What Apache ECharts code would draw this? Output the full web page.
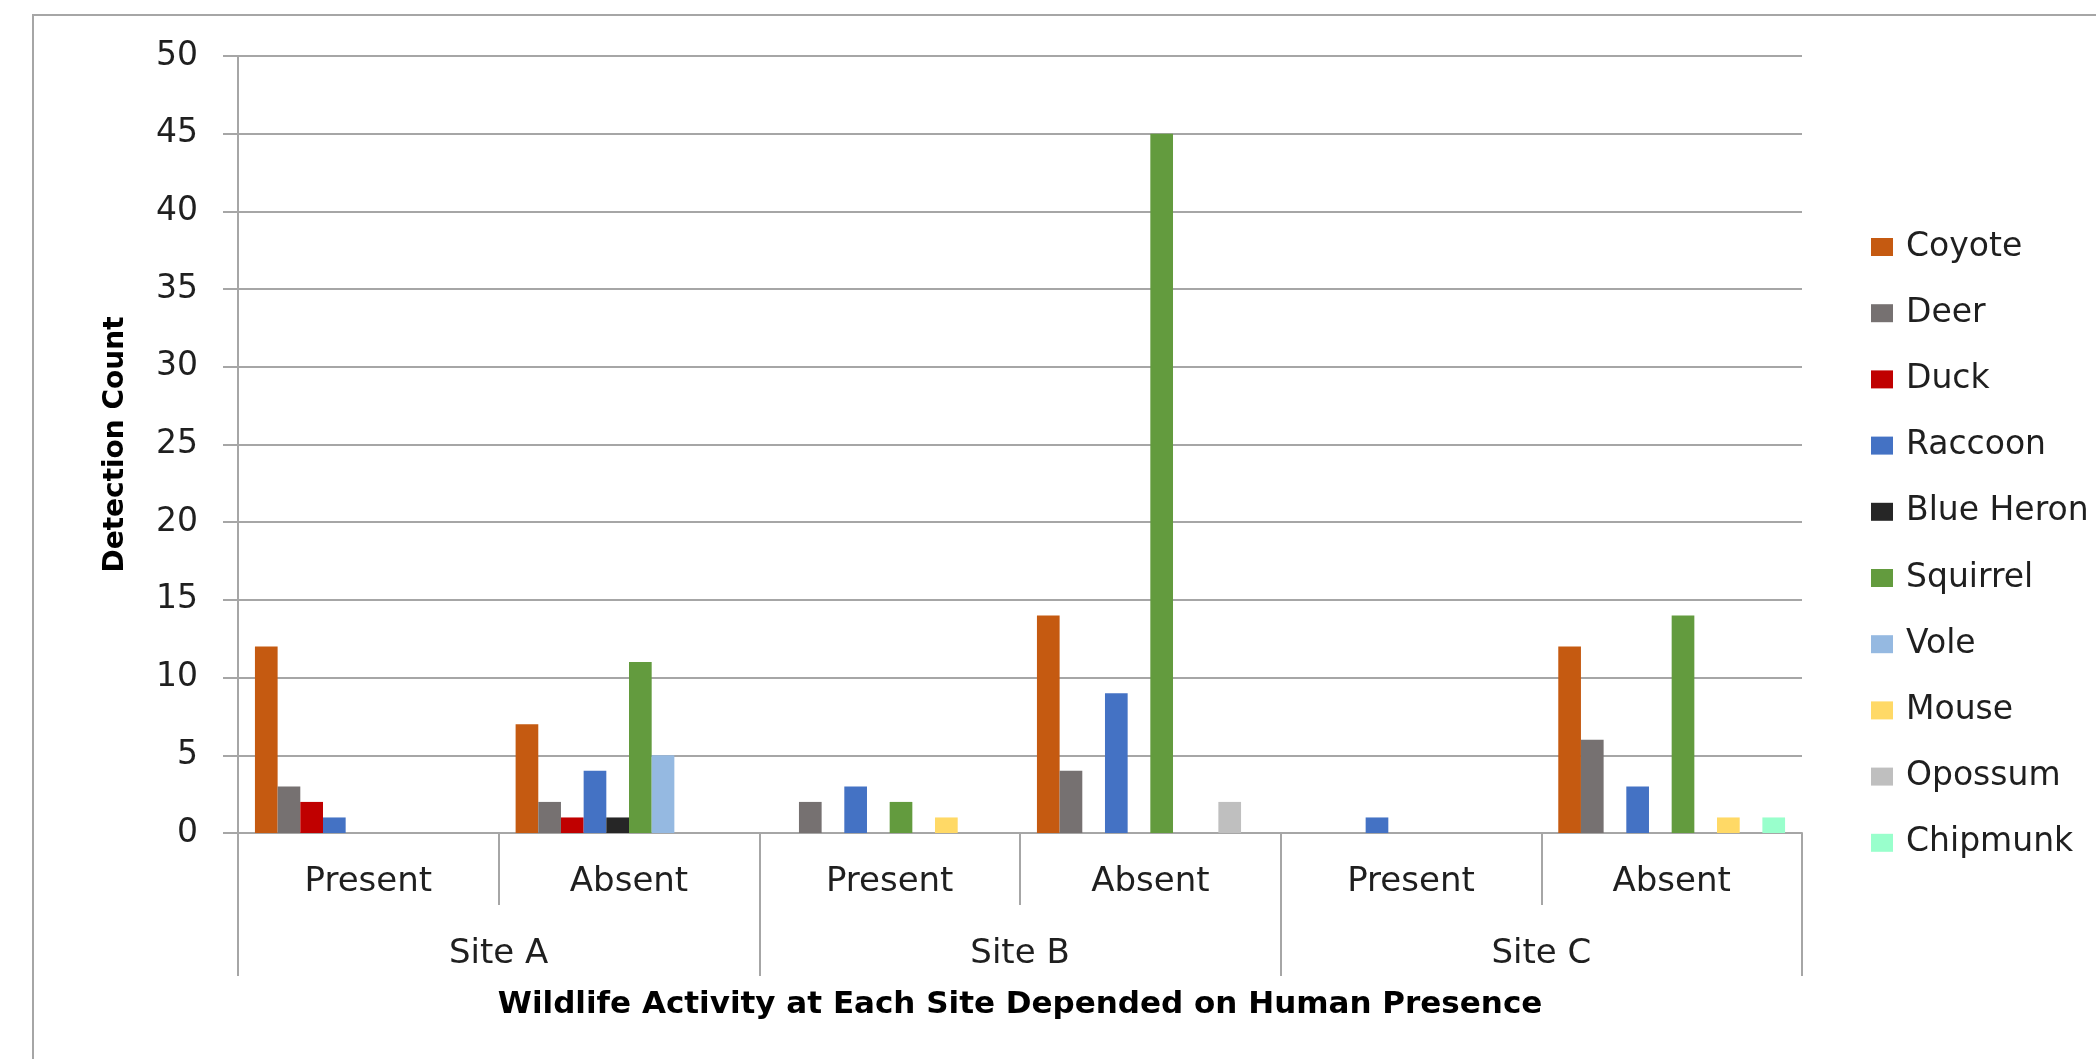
<!DOCTYPE html>
<html><head><meta charset="utf-8">
<script src="https://cdn.jsdelivr.net/npm/echarts@6/dist/echarts.min.js"></script>
<style>
html,body{margin:0;padding:0;background:#fff;overflow:hidden;}
#chart{width:2096px;height:1059px;position:absolute;left:0;top:0;}
#frame{position:absolute;left:32px;top:14px;width:2200px;height:1200px;border:2px solid #a6a6a6;pointer-events:none;box-sizing:border-box;}
</style></head><body>
<div id="chart"></div><div id="frame"></div>
<script>
// ---- data ----
const sites = ['Site A', 'Site B', 'Site C'];
const conditions = ['Present', 'Absent'];
const species = ['Coyote', 'Deer', 'Duck', 'Raccoon', 'Blue Heron', 'Squirrel', 'Vole', 'Mouse', 'Opossum', 'Chipmunk'];
// order: A-Present, A-Absent, B-Present, B-Absent, C-Present, C-Absent
const coyote    = [12, 7, 0, 14, 0, 12];
const deer      = [3, 2, 2, 4, 0, 6];
const duck      = [2, 1, 0, 0, 0, 0];
const raccoon   = [1, 4, 3, 9, 1, 3];
const blueHeron = [0, 1, 0, 0, 0, 0];
const squirrel  = [0, 11, 2, 45, 0, 14];
const vole      = [0, 5, 0, 0, 0, 0];
const mouse     = [0, 0, 1, 0, 0, 1];
const opossum   = [0, 0, 0, 2, 0, 0];
const chipmunk  = [0, 0, 0, 0, 0, 1];
const yMin = 0, yMax = 50, yStep = 5;
const yTitle = 'Detection Count';
const xTitle = 'Wildlife Activity at Each Site Depended on Human Presence';

// ---- build ----
const seriesValues = [coyote, deer, duck, raccoon, blueHeron, squirrel, vole, mouse, opossum, chipmunk];
const colors = ['#C55A11', '#767171', '#C00000', '#4472C4', '#262626', '#639B3E', '#95B9E1', '#FFD966', '#BFBFBF', '#99FFCC'];
const categories = [];
sites.forEach(s => conditions.forEach(c => categories.push(s + '|' + c)));

const FONT = 'DejaVu Sans';
const TXT = '#1f1f1f';
const LINE = '#a6a6a6';

const chart = echarts.init(document.getElementById('chart'), null, {renderer: 'canvas'});
chart.setOption({
  animation: false,
  backgroundColor: '#ffffff',
  color: colors,
  textStyle: {fontFamily: FONT},
  title: {
    text: xTitle,
    left: 1020, top: 989, textAlign: 'center', padding: 0,
    textStyle: {fontFamily: FONT, fontSize: 31, fontWeight: 'bold', color: '#000', lineHeight: 32}
  },
  legend: {
    orient: 'vertical',
    left: 1871, top: 230,
    itemWidth: 22, itemHeight: 18,
    itemGap: 32.2,
    icon: 'rect',
    padding: 0,
    textStyle: {fontFamily: FONT, fontSize: 33, color: TXT, lineHeight: 34, padding: [0, 0, 0, 8]},
    data: species
  },
  grid: {left: 238, right: 294, top: 56, bottom: 1059 - 833, containLabel: false, outerBoundsMode: 'none'},
  xAxis: [
    {
      type: 'category', position: 'bottom', data: categories,
      axisLine: {show: true, lineStyle: {color: LINE, width: 2}},
      axisTick: {show: true, length: 72, interval: 0, lineStyle: {color: LINE, width: 2}},
      axisLabel: {interval: 0, margin: 33, fontFamily: FONT, fontSize: 34, color: TXT, lineHeight: 32,
        formatter: v => v.split('|')[1]},
      splitLine: {show: false}
    },
    {
      type: 'category', position: 'bottom', data: sites,
      axisLine: {show: false},
      axisTick: {show: true, length: 143, interval: 0, lineStyle: {color: LINE, width: 2}},
      axisLabel: {interval: 0, margin: 105, fontFamily: FONT, fontSize: 34, color: TXT, lineHeight: 32},
      splitLine: {show: false}
    }
  ],
  yAxis: {
    type: 'value', min: yMin, max: yMax, interval: yStep,
    name: yTitle, nameLocation: 'middle', nameGap: 108,
    nameTextStyle: {fontFamily: FONT, fontSize: 28, fontWeight: 'bold', color: '#000', lineHeight: 28},
    axisLine: {show: true, lineStyle: {color: LINE, width: 2}},
    axisTick: {show: true, length: 15, lineStyle: {color: LINE, width: 2}},
    axisLabel: {margin: 40, fontFamily: FONT, fontSize: 33, color: TXT},
    splitLine: {show: true, lineStyle: {color: LINE, width: 2}}
  },
  series: species.map((name, i) => ({
    name: name,
    type: 'bar',
    xAxisIndex: 0,
    data: seriesValues[i],
    barGap: '0%',
    barCategoryGap: '13%',
    itemStyle: {color: colors[i]}
  }))
});
</script>
</body></html>
